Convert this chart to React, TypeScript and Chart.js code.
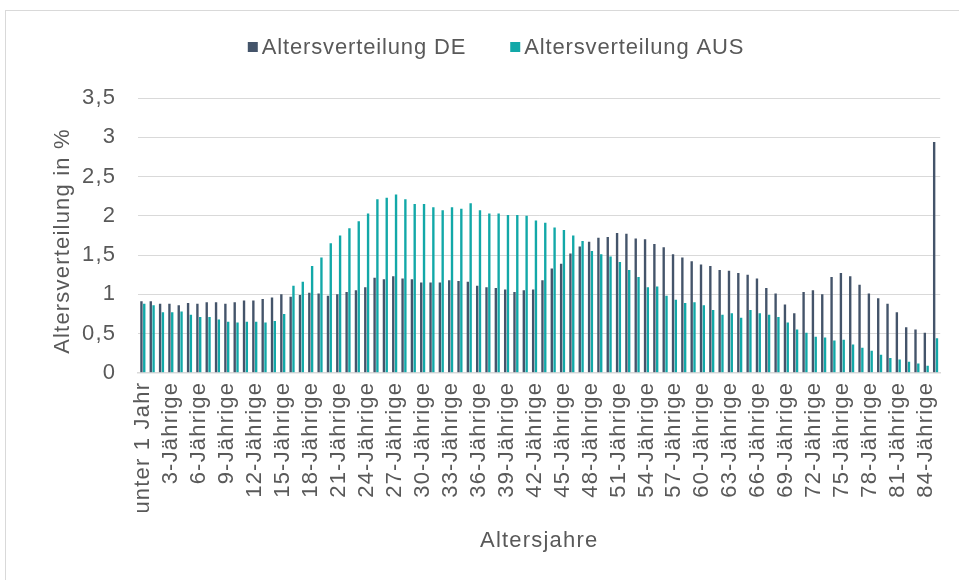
import React, { useEffect, useRef } from "react";
import { Chart, registerables } from "chart.js";

Chart.register(...registerables);

// Categories: "unter 1 Jahr", 1..84-Jährige, plus a final (unlabelled) oldest group
const categories: string[] = [
  "unter 1 Jahr",
  ...Array.from({ length: 84 }, (_, i) => `${i + 1}-Jährige`),
  "85 Jahre und älter",
];

const seriesNames = ["Altersverteilung DE", "Altersverteilung AUS"];

const valuesDE: number[] = [
  0.91, 0.91, 0.88, 0.88, 0.86, 0.89, 0.88, 0.9, 0.9, 0.88,
  0.9, 0.92, 0.92, 0.94, 0.96, 1.0, 0.97, 0.99, 1.02, 1.01,
  0.98, 1.0, 1.03, 1.05, 1.09, 1.21, 1.19, 1.23, 1.2, 1.19,
  1.15, 1.15, 1.15, 1.18, 1.17, 1.16, 1.11, 1.09, 1.08, 1.06,
  1.03, 1.05, 1.06, 1.18, 1.33, 1.39, 1.52, 1.61, 1.67, 1.72,
  1.73, 1.78, 1.77, 1.71, 1.7, 1.64, 1.6, 1.51, 1.47, 1.42,
  1.38, 1.36, 1.31, 1.3, 1.27, 1.25, 1.2, 1.08, 1.01, 0.87,
  0.76, 1.03, 1.05, 1.0, 1.22, 1.27, 1.23, 1.12, 1.01, 0.95,
  0.88, 0.77, 0.58, 0.55, 0.51, 2.94,
];

const valuesAUS: number[] = [
  0.88, 0.86, 0.77, 0.77, 0.78, 0.74, 0.71, 0.71, 0.68, 0.65,
  0.64, 0.65, 0.65, 0.64, 0.66, 0.75, 1.11, 1.16, 1.36, 1.47,
  1.65, 1.75, 1.84, 1.93, 2.03, 2.21, 2.23, 2.27, 2.21, 2.15,
  2.15, 2.11, 2.07, 2.11, 2.09, 2.16, 2.07, 2.03, 2.03, 2.01,
  2.01, 2.0, 1.94, 1.91, 1.85, 1.82, 1.75, 1.68, 1.55, 1.51,
  1.48, 1.41, 1.31, 1.22, 1.09, 1.1, 0.98, 0.93, 0.89, 0.9,
  0.86, 0.8, 0.74, 0.76, 0.7, 0.8, 0.76, 0.74, 0.71, 0.64,
  0.55, 0.51, 0.46, 0.45, 0.41, 0.42, 0.36, 0.32, 0.28, 0.23,
  0.19, 0.17, 0.14, 0.12, 0.09, 0.44,
];

const yAxisTitle = "Altersverteilung in %";
const xAxisTitle = "Altersjahre";

const COLOR_DE = "#44546A";
const COLOR_AUS = "#12A8A8";
const TEXT = "#595959";
const GRID = "#D9D9D9";
const FONT_FAMILY = '"Liberation Sans", Arial, sans-serif';
const LS = "1.2px";

const spacingPlugin = {
  id: "letterSpacing",
  beforeUpdate(chart: any) {
    chart.ctx.letterSpacing = LS;
  },
  beforeLayout(chart: any) {
    chart.ctx.letterSpacing = LS;
  },
  beforeDraw(chart: any) {
    chart.ctx.letterSpacing = LS;
  },
};

// Legend and y-axis title drawn by hand (positions as in the reference)
const overlayPlugin = {
  id: "overlay",
  afterDraw(chart: any) {
    const ctx = chart.ctx;
    ctx.save();
    ctx.font = `22px ${FONT_FAMILY}`;
    ctx.textBaseline = "middle";

    // legend
    ctx.letterSpacing = "0.85px";
    ctx.textAlign = "left";
    const box = 10;
    const gap = 4;
    const itemGap = 44;
    const items = chart.data.datasets.map((ds: any) => ({
      text: ds.label,
      color: ds.backgroundColor,
    }));
    const widths = items.map((it: any) => box + gap + ctx.measureText(it.text).width);
    const total = widths.reduce((a: number, b: number) => a + b, 0) + itemGap * (items.length - 1);
    let x = 496 - total / 2;
    const y = 47;
    items.forEach((it: any, i: number) => {
      ctx.fillStyle = it.color;
      ctx.fillRect(x, y - box / 2, box, box);
      ctx.fillStyle = TEXT;
      ctx.fillText(it.text, x + box + gap, y + 1);
      x += widths[i] + itemGap;
    });

    // y-axis title
    ctx.letterSpacing = LS;
    ctx.textAlign = "center";
    ctx.fillStyle = TEXT;
    ctx.translate(63, 241);
    ctx.rotate(-Math.PI / 2);
    ctx.fillText(yAxisTitle, 0, 0);
    ctx.restore();
  },
};

export default function App() {
  const ref = useRef<HTMLCanvasElement | null>(null);

  useEffect(() => {
    if (!ref.current) return;
    const chart = new Chart(ref.current, {
      type: "bar",
      data: {
        labels: categories,
        datasets: [
          {
            label: seriesNames[0],
            data: valuesDE,
            backgroundColor: COLOR_DE,
            categoryPercentage: 0.6,
            barPercentage: 0.85,
          },
          {
            label: seriesNames[1],
            data: valuesAUS,
            backgroundColor: COLOR_AUS,
            categoryPercentage: 0.6,
            barPercentage: 0.85,
          },
        ],
      },
      options: {
        responsive: false,
        animation: false,
        devicePixelRatio: 1,
        layout: { padding: { left: 60, right: 7, top: 98, bottom: 26 } },
        plugins: {
          legend: { display: false },
          tooltip: { enabled: false },
        },
        scales: {
          x: {
            offset: true,
            grid: { display: false, drawTicks: false },
            border: { display: true, color: GRID, width: 1.5 },
            ticks: {
              autoSkip: false,
              maxRotation: 90,
              minRotation: 90,
              padding: 9,
              color: TEXT,
              font: { family: FONT_FAMILY, size: 22 },
              callback: function (this: any, value: any, index: number) {
                return index % 3 === 0 ? this.getLabelForValue(value) : "";
              },
            },
            title: {
              display: true,
              text: xAxisTitle,
              color: TEXT,
              font: { family: FONT_FAMILY, size: 22 },
              padding: { top: 5, bottom: 0 },
            },
          },
          y: {
            min: 0,
            max: 3.5,
            grid: { color: GRID, lineWidth: 1, drawTicks: false },
            border: { display: false },
            ticks: {
              stepSize: 0.5,
              padding: 22,
              color: TEXT,
              font: { family: FONT_FAMILY, size: 22 },
              callback: (v: any) => String(v).replace(".", ","),
            },
            title: { display: false },
          },
        },
      },
      plugins: [spacingPlugin, overlayPlugin],
    });
    return () => chart.destroy();
  }, []);

  return (
    <div
      style={{
        position: "fixed",
        left: 0,
        top: 0,
        width: 959,
        height: 580,
        overflow: "hidden",
        background: "#fff",
      }}
    >
      <div
        style={{
          position: "absolute",
          left: 5,
          top: 10,
          width: 1000,
          height: 620,
          border: `1px solid ${GRID}`,
          boxSizing: "border-box",
        }}
      />
      <canvas
        ref={ref}
        width={971}
        height={580}
        style={{ position: "absolute", left: 0, top: 0, width: 971, height: 580 }}
      />
    </div>
  );
}
